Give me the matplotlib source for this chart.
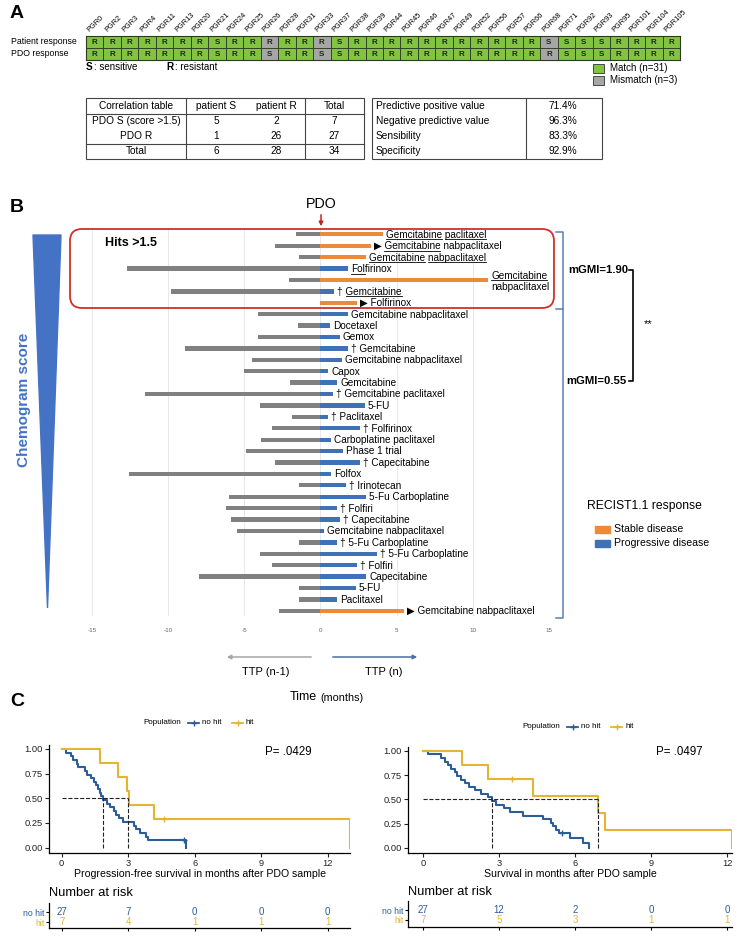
import numpy as np
import matplotlib
matplotlib.use('Agg')
import matplotlib.pyplot as plt
from matplotlib.patches import Rectangle, FancyBboxPatch, Polygon
from matplotlib.font_manager import FontProperties

fam = ['Liberation Sans', 'DejaVu Sans']
plt.rcParams['font.family'] = fam

# ---------------- data ----------------
# panel A
patients = ['PGR0', 'PGR2', 'PGR3', 'PGR4', 'PGR11', 'PGR13', 'PGR20', 'PGR21', 'PGR24', 'PGR25',
            'PGR26', 'PGR28', 'PGR31', 'PGR33', 'PGR37', 'PGR38', 'PGR39', 'PGR44', 'PGR45', 'PGR46',
            'PGR47', 'PGR49', 'PGR52', 'PGR56', 'PGR57', 'PGR66', 'PGR68', 'PGR71', 'PGR92', 'PGR93',
            'PGR95', 'PGR101', 'PGR104', 'PGR105']
patient_resp = list("RRRRRRRSRRRRRRSR" + "RRRRRRRRRR" + "SSSS" + "RRRR")
pdo_resp = list("RRRRRRRSRRSRRSSR" + "RRRRRRRRRR" + "RSSS" + "RRRR")

corr_header = ['Correlation table', 'patient S', 'patient R', 'Total']
corr_rows = [['PDO S (score >1.5)', '5', '2', '7'],
             ['PDO R', '1', '26', '27'],
             ['Total', '6', '28', '34']]
perf_labels = ['Predictive positive value', 'Negative predictive value', 'Sensibility', 'Specificity']
perf_values = ['71.4%', '96.3%', '83.3%', '92.9%']

# panel B
treatments = ["Gemcitabine paclitaxel", "Gemcitabine nabpaclitaxel", "Gemcitabine nabpaclitaxel",
              "Folfirinox", "Gemcitabine\nnabpaclitaxel", "Gemcitabine", "Folfirinox",
              "Gemcitabine nabpaclitaxel", "Docetaxel", "Gemox", "Gemcitabine",
              "Gemcitabine nabpaclitaxel", "Capox", "Gemcitabine", "Gemcitabine paclitaxel", "5-FU",
              "Paclitaxel", "Folfirinox", "Carboplatine paclitaxel", "Phase 1 trial", "Capecitabine",
              "Folfox", "Irinotecan", "5-Fu Carboplatine", "Folfiri", "Capecitabine",
              "Gemcitabine nabpaclitaxel", "5-Fu Carboplatine", "5-Fu Carboplatine", "Folfiri",
              "Capecitabine", "5-FU", "Paclitaxel", "Gemcitabine nabpaclitaxel"]
marks = ['', '▶', '', '', '', '†', '▶', '', '', '', '†', '', '', '', '†', '', '†', '†', '', '',
         '†', '', '†', '', '†', '†', '', '†', '†', '†', '', '', '', '▶']
ttp_prev = [1.6, 3.0, 1.4, 12.7, 2.1, 9.8, 0, 4.1, 1.5, 4.1, 8.9, 4.5, 5.0, 2.0, 11.5, 4.0, 1.9,
            3.2, 3.9, 4.9, 3.0, 12.6, 1.4, 6.0, 6.2, 5.9, 5.5, 1.4, 4.0, 3.2, 8.0, 1.4, 1.4, 2.7]
ttp_pdo = [4.1, 3.3, 3.0, 1.8, 11.0, 0.9, 2.4, 1.8, 0.6, 1.25, 1.8, 1.4, 0.5, 1.1, 0.8, 2.9, 0.5,
           2.6, 0.7, 1.5, 2.6, 0.7, 1.7, 3.0, 1.1, 1.3, 0.2, 1.1, 3.7, 2.4, 3.0, 2.3, 1.1, 5.5]
recist = ['SD', 'SD', 'SD', 'PD', 'SD', 'PD', 'SD'] + ['PD'] * 26 + ['SD']
underline = {0: [(0, 11), (12, 22)], 1: [(0, 11)], 2: [(0, 11), (12, 25)], 3: [(0, 3)],
             4: [(0, 11)], 5: [(0, 11)]}

# panel C (Kaplan-Meier steps)
pfs_nohit_t = [0, 0.18, 0.4, 0.53, 0.68, 0.72, 1.05, 1.15, 1.3, 1.45, 1.55, 1.65, 1.72, 1.78, 1.85,
               2.05, 2.2, 2.35, 2.45, 2.6, 2.78, 3.25, 3.35, 3.55, 3.8, 3.9, 5.6]
pfs_nohit_s = [1, .963, .926, .889, .852, .815, .778, .741, .704, .667, .630, .593, .556, .519, .481,
               .444, .407, .370, .333, .296, .259, .222, .185, .148, .111, .074, 0]
pfs_nohit_cens = ([5.5], [.074])
pfs_hit_t = [0, 1.75, 2.55, 2.95, 3.02, 4.17, 13.0]
pfs_hit_s = [1, .857, .714, .571, .429, .286, 0]
pfs_hit_cens = ([4.63], [.286])
pfs_medians = [1.85, 3.0]

os_nohit_t = [0, 0.2, 0.7, 0.85, 1.0, 1.1, 1.25, 1.35, 1.5, 1.65, 1.8, 2.05, 2.3, 2.55, 2.73, 2.9,
              3.2, 3.45, 3.95, 4.75, 5.05, 5.15, 5.25, 5.35, 5.8, 6.33, 6.57]
os_nohit_s = [1, .963, .926, .889, .852, .815, .778, .741, .704, .667, .630, .593, .556, .519, .481,
              .444, .407, .370, .333, .296, .259, .222, .185, .148, .099, .049, 0]
os_nohit_cens = ([5.5], [.148])
os_hit_t = [0, 1.52, 2.58, 4.35, 6.9, 7.19, 12.18]
os_hit_s = [1, .857, .714, .536, .357, .179, 0]
os_hit_cens = ([3.5], [.714])
os_medians = [2.73, 6.9]

risk_times = [0, 3, 6, 9, 12]
pfs_risk_nohit = [27, 7, 0, 0, 0]
pfs_risk_hit = [7, 4, 1, 1, 1]
os_risk_nohit = [27, 12, 2, 0, 0]
os_risk_hit = [7, 5, 3, 1, 1]

# ---------------- figure ----------------
W, H = 747, 942
fig = plt.figure(figsize=(W / 100, H / 100), dpi=100)


def rect(x0, y0, x1, y1):
    return [x0 / W, 1 - y1 / H, (x1 - x0) / W, (y1 - y0) / H]


ov = fig.add_axes([0, 0, 1, 1], zorder=10)
ov.set_xlim(0, W)
ov.set_ylim(H, 0)
ov.axis('off')

green, grey_cell = '#82c341', '#a6a6a6'
orange, blue, grey = '#ea8a3a', '#3f71b6', '#808080'
km_blue, km_yellow = '#2c5d96', '#e3b532'

for letter, y in [('A', 13), ('B', 207), ('C', 702)]:
    ov.text(10, y, letter, fontsize=14, fontweight='bold', va='center', ha='left')

# ---- panel A ----
axA = fig.add_axes(rect(86, 36, 680, 59.5))
xs = np.arange(len(patients)) + 0.5
for row, seq in enumerate([patient_resp, pdo_resp]):
    cols = [green if a == b else grey_cell for a, b in zip(patient_resp, pdo_resp)]
    axA.bar(xs, 1, bottom=row, width=1, color=cols, edgecolor='#2c3a20', linewidth=0.6)
    for x, s in zip(xs, seq):
        axA.text(x, row + 0.55, s, ha='center', va='center', fontsize=5.8, fontweight='bold',
                 color='#1e2a14')
axA.set_xlim(0, len(patients))
axA.set_ylim(2, 0)
axA.xaxis.tick_top()
axA.set_xticks(xs - 0.2)
axA.set_xticklabels(patients, rotation=45, ha='left', rotation_mode='anchor', fontsize=5.3)
axA.tick_params(axis='x', length=0, pad=2)
axA.set_yticks([])
for sp in axA.spines.values():
    sp.set_linewidth(0.8)
    sp.set_color('#2c3a20')

ov.text(11, 42, 'Patient response', fontsize=6.3, va='center')
ov.text(11, 54, 'PDO response', fontsize=6.3, va='center')
ov.text(86, 67, 'S', fontsize=7.2, fontweight='bold', va='center')
ov.text(94, 67, ': sensitive', fontsize=7, va='center')
ov.text(166, 67, 'R', fontsize=7.2, fontweight='bold', va='center')
ov.text(175, 67, ': resistant', fontsize=7, va='center')
n_match = sum(a == b for a, b in zip(patient_resp, pdo_resp))
for y, c, lab in [(68, green, f'Match (n={n_match})'),
                  (80, grey_cell, f'Mismatch (n={len(patients) - n_match})')]:
    ov.add_patch(Rectangle((593, y - 4.5), 11, 9, facecolor=c, edgecolor='#333333', lw=0.6))
    ov.text(610, y, lab, fontsize=7, va='center')

# tables
tab_rows_y = [106, 121, 136, 151]
col_c = [136, 216, 276, 334]
for j, h in enumerate(corr_header):
    ov.text(col_c[j], tab_rows_y[0], h, fontsize=7.3, ha='center', va='center')
for i, r in enumerate(corr_rows):
    for j, v in enumerate(r):
        ov.text(col_c[j], tab_rows_y[i + 1], v, fontsize=7.3, ha='center', va='center')
tl, tr, tt, tb = 86, 364, 98, 159
ov.add_patch(Rectangle((tl, tt), tr - tl, tb - tt, fill=False, ec='#444444', lw=0.8))
for x in [186, 305]:
    ov.plot([x, x], [tt, tb], color='#444444', lw=0.8)
for y in [114, 144]:
    ov.plot([tl, tr], [y, y], color='#444444', lw=0.8)
rl, rr = 372, 602
ov.add_patch(Rectangle((rl, tt), rr - rl, tb - tt, fill=False, ec='#444444', lw=0.8))
ov.plot([526, 526], [tt, tb], color='#444444', lw=0.8)
for i, (lab, v) in enumerate(zip(perf_labels, perf_values)):
    ov.text(376, tab_rows_y[i], lab, fontsize=7.3, va='center')
    ov.text(563, tab_rows_y[i], v, fontsize=7.3, va='center', ha='center')

# ---- panel B ----
rows = np.arange(1, len(treatments) + 1)
r0, dr = 234.3, 11.41
axB = fig.add_axes(rect(92, 228, 549, 616))
axB.barh(rows, -np.array(ttp_prev), height=0.38, color=grey)
axB.barh(rows, ttp_pdo, height=0.38, color=[orange if r == 'SD' else blue for r in recist])
axB.set_xlim(-15, 15)
axB.set_ylim(1 + (616 - r0) / dr, 1 + (228 - r0) / dr)
axB.set_xticks(np.arange(-15, 16, 5))
axB.set_xticklabels(['-15', '-10', '-5', '0', '5', '10', '15'], fontsize=4.5, color='#666666')
axB.tick_params(axis='x', length=0, pad=9)
axB.set_yticks([])
axB.grid(axis='x', color='#e4e4e4', lw=0.6)
axB.set_axisbelow(True)
for sp in axB.spines.values():
    sp.set_visible(False)

renderer = fig.canvas.get_renderer()
lab_fp = FontProperties(family=fam, size=7.2)


def text_w(s):
    w1 = renderer.get_text_width_height_descent('|' + s + '|', lab_fp, ismath=False)[0]
    w0 = renderer.get_text_width_height_descent('||', lab_fp, ismath=False)[0]
    return w1 - w0


to_ov = ov.transData.inverted()
for i, name in enumerate(treatments):
    x, y = to_ov.transform(axB.transData.transform((ttp_pdo[i], rows[i])))
    x += 3
    pre = marks[i] + ' ' if marks[i] else ''
    lines = name.split('\n')
    ys = [y] if len(lines) == 1 else [y - 4.7, y + 7]
    for k, (line, yl) in enumerate(zip(lines, ys)):
        s = (pre if k == 0 else '') + line
        ov.text(x, yl + 3.4, s, fontproperties=lab_fp, va='baseline', ha='left')
        if k == 0:
            for a, b in underline.get(i, []):
                xa = x + text_w(s[:len(pre) + a])
                xb = x + text_w(s[:len(pre) + b])
                ov.plot([xa, xb], [yl + 5, yl + 5], color='k', lw=0.6)

ov.text(321, 204, 'PDO', fontsize=10.3, ha='center', va='center')
ov.annotate('', xy=(321, 229), xytext=(321, 212),
            arrowprops=dict(arrowstyle='-|>', color='#c8221e', lw=1.1, mutation_scale=6))
ov.add_patch(FancyBboxPatch((70, 229), 484, 79, boxstyle='round,pad=0,rounding_size=12',
                            fill=False, ec='#d0302b', lw=1.3))
ov.text(105, 243, 'Hits >1.5', fontsize=9, fontweight='bold', va='center')

bc = '#5a80b6'
ov.plot([556, 563, 563, 556], [232, 232, 309, 309], color=bc, lw=1.1)
ov.plot([563, 563, 556], [309, 618, 618], color=bc, lw=1.1)
ov.plot([629, 633, 633, 629], [270, 270, 381, 381], color='k', lw=1.2)
ov.text(598, 270, 'mGMI=1.90', fontsize=8.1, fontweight='bold', ha='center', va='center')
ov.text(596, 381, 'mGMI=0.55', fontsize=8.1, fontweight='bold', ha='center', va='center')
ov.text(648, 324, '**', fontsize=8, ha='center', va='center')

ov.add_patch(Polygon([(33, 235), (61, 235), (47.5, 608)], closed=True, color='#4472c4'))
ov.text(24, 400, 'Chemogram score', rotation=90, fontsize=11, fontweight='bold', color='#4472c4',
        ha='center', va='center')

ov.text(587, 506, 'RECIST1.1 response', fontsize=8.7, va='center')
for y, c, lab in [(529, orange, 'Stable disease'), (543, blue, 'Progressive disease')]:
    ov.add_patch(Rectangle((595, y - 3.5), 15, 7, color=c))
    ov.text(614, y, lab, fontsize=7.6, va='center')

ov.annotate('', xy=(224, 657), xytext=(314, 657),
            arrowprops=dict(arrowstyle='-|>', color='#a6a6a6', lw=1.1, mutation_scale=6))
ov.annotate('', xy=(420, 657), xytext=(330, 657),
            arrowprops=dict(arrowstyle='-|>', color='#4a6fa5', lw=1.1, mutation_scale=6))
ov.text(266, 672, 'TTP (n-1)', fontsize=8, ha='center', va='center')
ov.text(384, 672, 'TTP (n)', fontsize=8, ha='center', va='center')
ov.text(290, 697, 'Time', fontsize=9, ha='left', va='center')
ov.text(320, 698, '(months)', fontsize=7.8, ha='left', va='center')


# ---- panel C ----
def km(ax, t1, s1, c1, t2, s2, c2, meds, xlim, xlabel):
    ax.step(t1, s1, where='post', color=km_blue, lw=1.5, zorder=3)
    ax.step(t2, s2, where='post', color=km_yellow, lw=1.5, zorder=3)
    ax.plot(c1[0], c1[1], '+', color=km_blue, ms=4, mew=1, zorder=3)
    ax.plot(c2[0], c2[1], '+', color=km_yellow, ms=4, mew=1, zorder=3)
    ax.plot([0, max(meds)], [0.5, 0.5], '--', color='#222222', lw=0.8, zorder=4)
    for m in meds:
        ax.plot([m, m], [0, 0.5], '--', color='#222222', lw=0.8, zorder=4)
    ax.set_xlim(*xlim)
    ax.set_ylim(-0.054, 1.04)
    ax.set_xticks(risk_times)
    ax.set_yticks([0, 0.25, 0.5, 0.75, 1])
    ax.set_yticklabels(['0.00', '0.25', '0.50', '0.75', '1.00'])
    ax.tick_params(labelsize=6.7, length=3, width=0.8, pad=1.5, colors='#222222')
    for s in ['top', 'right']:
        ax.spines[s].set_visible(False)
    for s in ['left', 'bottom']:
        ax.spines[s].set_linewidth(0.9)
    ax.set_xlabel(xlabel, fontsize=7.6, labelpad=0.5)


def risk(ax, nohit, hit, xlim, ys):
    ax.set_xlim(*xlim)
    ax.set_ylim(0, 1)
    for t, n in zip(risk_times, nohit):
        ax.text(t, ys[0], str(n), ha='center', va='center', fontsize=7, color=km_blue)
    for t, n in zip(risk_times, hit):
        ax.text(t, ys[1], str(n), ha='center', va='center', fontsize=7, color=km_yellow)
    ax.set_xticks(risk_times)
    ax.set_xticklabels([])
    ax.set_yticks(ys)
    ax.set_yticklabels(['no hit', 'hit'], fontsize=6.3)
    for lab, c in zip(ax.get_yticklabels(), [km_blue, km_yellow]):
        lab.set_color(c)
    ax.tick_params(length=2, width=0.8, pad=1)
    for s in ['top', 'right']:
        ax.spines[s].set_visible(False)
    for s in ['left', 'bottom']:
        ax.spines[s].set_linewidth(0.9)


xl_L = (-(61.7 - 49) / 22.17, (350 - 61.7) / 22.17)
xl_R = (-(423 - 408) / 25.33, (732 - 423) / 25.33)

axL = fig.add_axes(rect(49, 745, 350, 853))
km(axL, pfs_nohit_t, pfs_nohit_s, pfs_nohit_cens, pfs_hit_t, pfs_hit_s, pfs_hit_cens,
   pfs_medians, xl_L, 'Progression-free survival in months after PDO sample')
axR = fig.add_axes(rect(408, 747, 732, 853))
km(axR, os_nohit_t, os_nohit_s, os_nohit_cens, os_hit_t, os_hit_s, os_hit_cens,
   os_medians, xl_R, 'Survival in months after PDO sample')

rkL = fig.add_axes(rect(49, 903, 350, 928))
risk(rkL, pfs_risk_nohit, pfs_risk_hit, xl_L, [0.64, 0.24])
rkR = fig.add_axes(rect(408, 901, 732, 927))
risk(rkR, os_risk_nohit, os_risk_hit, xl_R, [0.65, 0.27])

for x0, y, ptxt, px, py in [(143, 723, 'P= .0429', 265, 752), (522, 727, 'P= .0497', 656, 752)]:
    ov.text(x0, y, 'Population', fontsize=5.8, va='center')
    ov.plot([x0 + 45, x0 + 56], [y, y], color=km_blue, lw=1.3)
    ov.plot(x0 + 50.5, y, '+', color=km_blue, ms=4, mew=1)
    ov.text(x0 + 59, y, 'no hit', fontsize=5.8, va='center')
    ov.plot([x0 + 89, x0 + 100], [y, y], color=km_yellow, lw=1.3)
    ov.plot(x0 + 94.5, y, '+', color=km_yellow, ms=4, mew=1)
    ov.text(x0 + 103, y, 'hit', fontsize=5.8, va='center')
    ov.text(px, py, ptxt, fontsize=8.3, va='center')

ov.text(49, 893, 'Number at risk', fontsize=9.3, va='center')
ov.text(408, 892, 'Number at risk', fontsize=9.3, va='center')

fig.savefig('out.png', dpi=100)
